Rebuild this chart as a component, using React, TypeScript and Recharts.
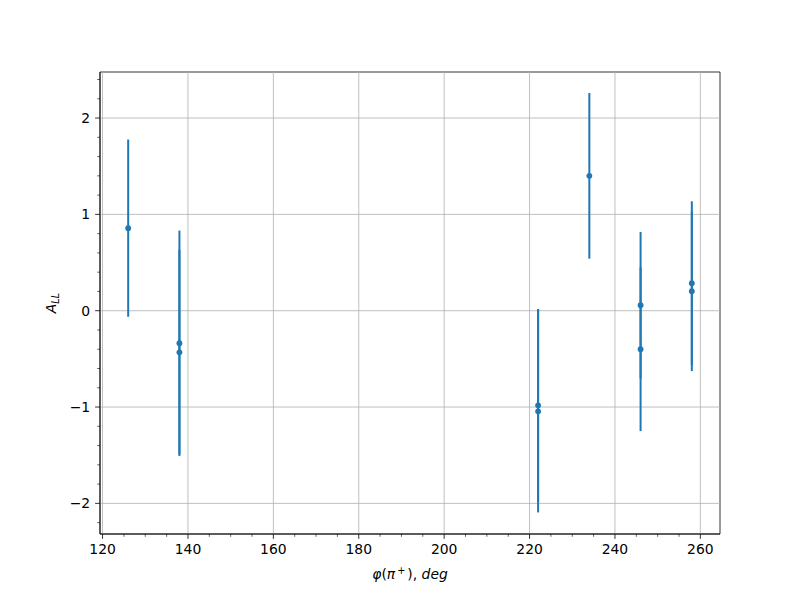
import React from "react";
import {
  ScatterChart,
  Scatter,
  XAxis,
  YAxis,
  ErrorBar,
  ReferenceLine,
  ReferenceArea,
} from "recharts";

const PHI = [126, 138, 138, 222, 222, 234, 246, 246, 258, 258];
const A_LL = [0.857, -0.338, -0.432, -0.982, -1.044, 1.4, 0.057, -0.4, 0.286, 0.203];
const ERR = [0.92, 1.17, 1.06, 1.0, 1.05, 0.86, 0.76, 0.85, 0.85, 0.83];

const X_MAJOR = [120, 140, 160, 180, 200, 220, 240, 260];
const X_TICKS = [
  120, 125, 130, 135, 140, 145, 150, 155, 160, 165, 170, 175, 180, 185, 190, 195,
  200, 205, 210, 215, 220, 225, 230, 235, 240, 245, 250, 255, 260,
];
const Y_MAJOR = [-2, -1, 0, 1, 2];
const Y_TICKS = [
  -2.2, -2.0, -1.8, -1.6, -1.4, -1.2, -1.0, -0.8, -0.6, -0.4, -0.2, 0, 0.2, 0.4,
  0.6, 0.8, 1.0, 1.2, 1.4, 1.6, 1.8, 2.0, 2.2, 2.4,
];
const X_DOMAIN: [number, number] = [119.4, 264.6];
const Y_DOMAIN: [number, number] = [-2.318, 2.478];

const data = PHI.map((x, i) => ({ x, y: A_LL[i], err: ERR[i] }));

const FONT = "DejaVu Sans";
const FS = 13.9;
const BLUE = "#1f77b4";

const isMajor = (v: number, list: number[]) =>
  list.some((m) => Math.abs(m - v) < 1e-6);

const fmt = (v: number) => (v < 0 ? "\u2212" + Math.abs(v) : String(v));

const XTick = (props: any) => {
  const { x, y, payload } = props;
  const v = payload.value;
  const major = isMajor(v, X_MAJOR);
  const len = major ? 4.9 : 2.8;
  return (
    <g>
      <line x1={x} x2={x} y1={y} y2={y + len} stroke="#000" strokeWidth={major ? 0.8 : 0.6} />
      {major && (
        <text x={x} y={y + 9.8} dy="0.76em" textAnchor="middle" fontSize={FS} fontFamily={FONT} fill="#000">
          {fmt(v)}
        </text>
      )}
    </g>
  );
};

const YTick = (props: any) => {
  const { x, y, payload } = props;
  const v = payload.value;
  const major = isMajor(v, Y_MAJOR);
  const len = major ? 4.9 : 2.8;
  return (
    <g>
      <line x1={x} x2={x - len} y1={y} y2={y} stroke="#000" strokeWidth={major ? 0.8 : 0.6} />
      {major && (
        <text x={x - 9.8} y={y} dy="0.36em" textAnchor="end" fontSize={FS} fontFamily={FONT} fill="#000">
          {fmt(Math.round(v))}
        </text>
      )}
    </g>
  );
};

const XLabel = (props: any) => {
  const vb = props.viewBox || { x: 100, y: 534, width: 620 };
  const cx = vb.x + vb.width / 2;
  const cy = vb.y + 45;
  return (
    <text x={cx} y={cy} textAnchor="middle" fontSize={FS} fontFamily={FONT} fill="#000">
      <tspan fontStyle="italic">φ</tspan>
      <tspan>(</tspan>
      <tspan fontStyle="italic">π</tspan>
      <tspan dx={2} dy={-5} fontSize={FS * 0.7}>+</tspan>
      <tspan dx={2} dy={5}>), </tspan>
      <tspan fontStyle="italic">deg</tspan>
    </text>
  );
};

const YLabel = (props: any) => {
  const vb = props.viewBox || { x: 0, y: 72, width: 100, height: 462 };
  const cx = 56;
  const cy = vb.y + vb.height / 2;
  return (
    <text
      x={cx}
      y={cy}
      textAnchor="middle"
      fontSize={FS}
      fontFamily={FONT}
      fill="#000"
      transform={`rotate(-90, ${cx}, ${cy})`}
    >
      <tspan fontStyle="italic">A</tspan>
      <tspan fontStyle="italic" fontSize={FS * 0.7} dy={3}>LL</tspan>
    </text>
  );
};

const Dot = (props: any) => {
  const { cx, cy } = props;
  return <circle cx={cx} cy={cy} r={2.9} fill={BLUE} />;
};

export default function App() {
  return (
    <div style={{ position: "absolute", left: 0, top: 0, width: 800, height: 600, background: "#fff" }}>
      <ScatterChart width={800} height={600} margin={{ top: 72, right: 80, bottom: 0, left: 0 }}>
        {X_MAJOR.map((v) => (
          <ReferenceLine key={"gx" + v} x={v} stroke="#b0b0b0" strokeWidth={0.8} />
        ))}
        {Y_MAJOR.map((v) => (
          <ReferenceLine key={"gy" + v} y={v} stroke="#b0b0b0" strokeWidth={0.8} />
        ))}
        <XAxis
          type="number"
          dataKey="x"
          domain={X_DOMAIN}
          ticks={X_TICKS}
          interval={0}
          allowDataOverflow
          height={66}
          tickSize={0}
          tickMargin={0}
          tickLine={false}
          axisLine={{ stroke: "#000", strokeWidth: 0.8 }}
          tick={<XTick />}
          label={<XLabel />}
        />
        <YAxis
          type="number"
          dataKey="y"
          domain={Y_DOMAIN}
          ticks={Y_TICKS}
          interval={0}
          allowDataOverflow
          width={100}
          tickSize={0}
          tickMargin={0}
          tickLine={false}
          axisLine={{ stroke: "#000", strokeWidth: 0.8 }}
          tick={<YTick />}
          label={<YLabel />}
        />
        <ReferenceArea
          x1={X_DOMAIN[0]}
          x2={X_DOMAIN[1]}
          y1={Y_DOMAIN[0]}
          y2={Y_DOMAIN[1]}
          fill="none"
          fillOpacity={0}
          stroke="#000"
          strokeWidth={0.8}
        />
        <Scatter data={data} fill={BLUE} shape={<Dot />} isAnimationActive={false}>
          <ErrorBar dataKey="err" direction="y" width={0} stroke={BLUE} strokeWidth={2} isAnimationActive={false} />
        </Scatter>
      </ScatterChart>
    </div>
  );
}
